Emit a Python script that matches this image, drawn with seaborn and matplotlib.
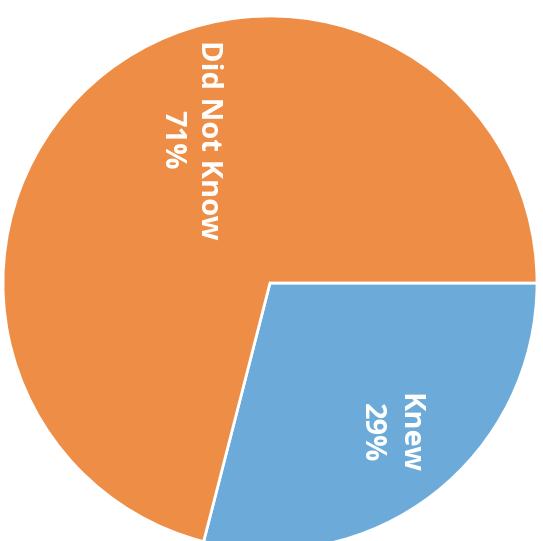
import matplotlib
matplotlib.use("Agg")
import matplotlib.pyplot as plt
import seaborn as sns

categories = ["Knew", "Did Not Know"]
values = [29, 71]
colors_hex = ["#6CABD9", "#EE8E46"]

sns.set_theme(style="white")
plt.rcParams['font.family'] = ['Open Sans', 'DejaVu Sans']

palette = sns.color_palette(colors_hex)

fig = plt.figure(figsize=(5.43, 5.41), dpi=100)
fig.patch.set_facecolor("white")
ax = fig.add_axes([3/543, -9/541, 534/543, 534/541])

labels = [f"{c}\n{v}%" for c, v in zip(categories, values)]
wedges, texts = ax.pie(values, labels=labels, colors=palette, startangle=0,
                       counterclock=False, labeldistance=0.64,
                       wedgeprops=dict(edgecolor="white", linewidth=2),
                       textprops=dict(color="white", fontsize=21, fontweight="bold"))
label_pos = [(0.45, -0.56), (-0.30, 0.535)]
for t, p in zip(texts, label_pos):
    t.set_rotation(-90)
    t.set_ha("center")
    t.set_va("center")
    t.set_multialignment("center")
    t.set_linespacing(1.35)
    t.set_position(p)
ax.set_xlim(-1.0, 1.0)
ax.set_ylim(-1.0, 1.0)
ax.set_aspect("equal")
ax.axis("off")
fig.savefig("out.png", dpi=100, facecolor="white")
